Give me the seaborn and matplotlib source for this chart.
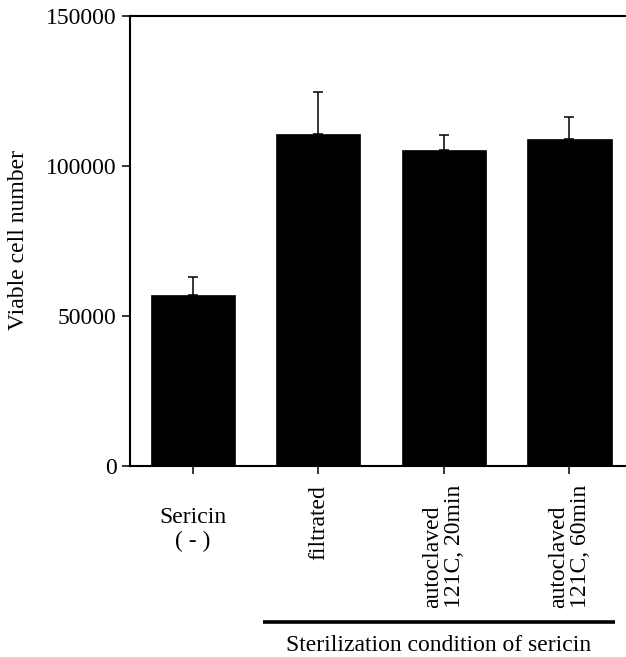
import numpy as np
import pandas as pd
import matplotlib
matplotlib.use("Agg")
import matplotlib.pyplot as plt
import matplotlib.transforms as mtransforms
import seaborn as sns

# ============================================================================
# DATA
# ============================================================================

conditions = ["Sericin\n( - )", "filtrated",
              "autoclaved\n121C, 20min", "autoclaved\n121C, 60min"]
cell_means = [57000, 110600, 105300, 109000]
cell_sd = [5900, 14000, 5000, 7200]
y_ticks = [0, 50000, 100000, 150000]
group_label = "Sterilization condition of sericin"

df = pd.DataFrame({"condition": conditions, "cells": cell_means})

# ============================================================================
# STYLE
# ============================================================================

sns.set_style("ticks")
plt.rcParams["font.family"] = ["Liberation Serif", "DejaVu Serif"]
plt.rcParams["axes.linewidth"] = 1.5
for key in ["text.color", "axes.labelcolor", "axes.edgecolor",
            "xtick.color", "ytick.color"]:
    plt.rcParams[key] = "black"
FS = 17

# ============================================================================
# FIGURE
# ============================================================================

fig = plt.figure(figsize=(6.26, 6.57), dpi=100)
ax = fig.add_axes([130 / 626, 1 - 465.5 / 657, 496 / 626, 450 / 657])

sns.barplot(
    data=df,
    x="condition",
    y="cells",
    color="black",
    saturation=1,
    width=0.67,
    edgecolor="black",
    linewidth=0.5,
    ax=ax
)

ax.errorbar(
    np.arange(len(cell_means)),
    cell_means,
    yerr=[np.zeros(len(cell_sd)), cell_sd],
    fmt="none",
    ecolor="black",
    elinewidth=1.1,
    capsize=3.3,
    capthick=1.1
)

ax.set_xlim(-0.5, 3.45)
ax.set_ylim(0, 150000)
ax.set_yticks(y_ticks)
ax.set_yticklabels([str(v) for v in y_ticks], fontsize=FS)

ax.spines["right"].set_visible(False)
ax.spines["top"].set_visible(True)

ax.tick_params(axis="both", direction="out", length=5.5, width=1.1, pad=4,
               colors="black")

ax.set_xlabel("")
ax.set_ylabel("Viable cell number", fontsize=FS, color="black")
ax.yaxis.set_label_coords(-0.204, 0.5)

# category labels: first horizontal, the rest rotated
ax.set_xticklabels([""] * len(conditions))
trans = mtransforms.blended_transform_factory(ax.transData, ax.transAxes)
for i, (pos, lab) in enumerate(zip(ax.get_xticks(), conditions)):
    if i == 0:
        ax.text(pos, -0.093, lab, transform=trans, ha="center", va="top",
                fontsize=FS, linespacing=1.15, color="black")
    else:
        ax.text(pos, -0.043, lab, transform=trans, ha="center", va="top",
                rotation=90, multialignment="left", fontsize=FS,
                linespacing=1.05, color="black")

# bracket under the sterilized groups
ax.plot([0.56, 3.365], [-0.348, -0.348], transform=trans, color="black",
        linewidth=2.6, clip_on=False, solid_capstyle="butt")
ax.text(1.96, -0.399, group_label, transform=trans, ha="center",
        va="center", fontsize=FS, color="black")

fig.savefig("out.png", dpi=100)
